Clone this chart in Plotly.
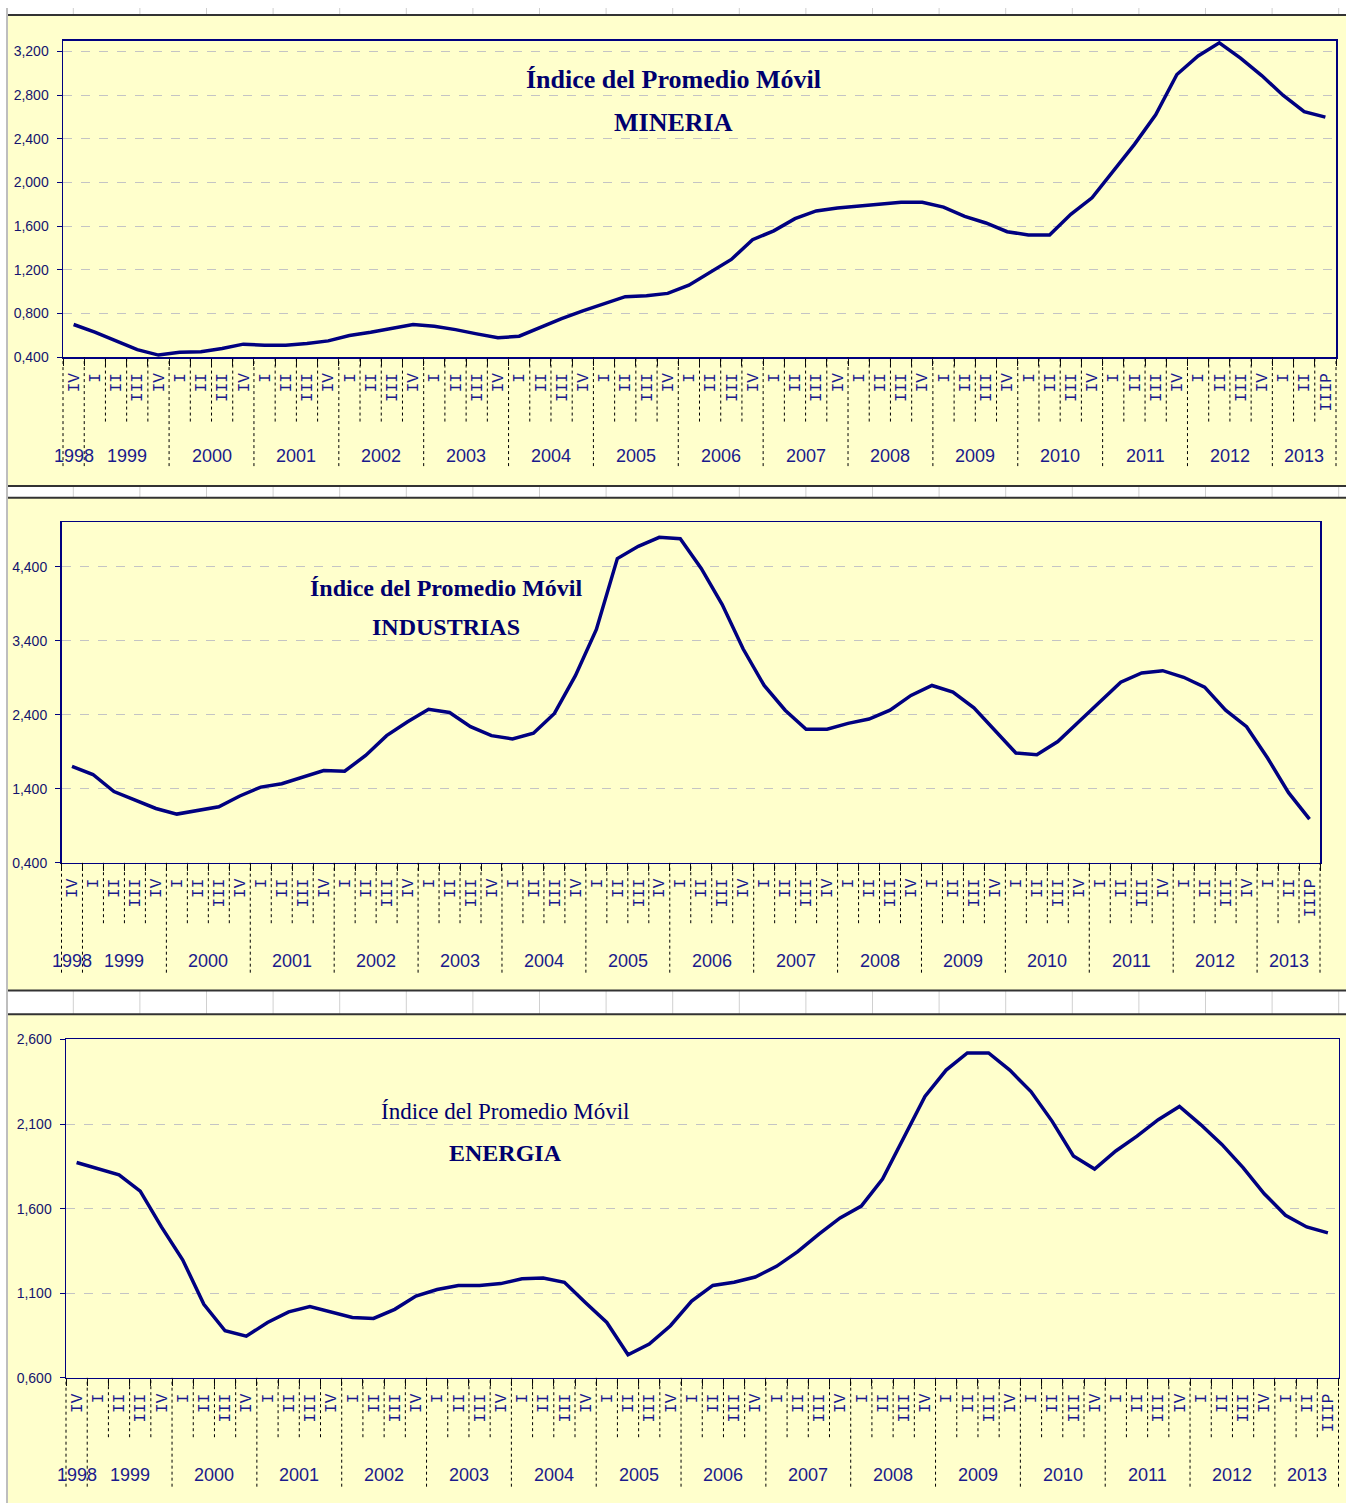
import plotly.graph_objects as go

# ---------------- data ----------------
quarters = ["IV",
            "I", "II", "III", "IV", "I", "II", "III", "IV", "I", "II", "III", "IV",
            "I", "II", "III", "IV", "I", "II", "III", "IV", "I", "II", "III", "IV",
            "I", "II", "III", "IV", "I", "II", "III", "IV", "I", "II", "III", "IV",
            "I", "II", "III", "IV", "I", "II", "III", "IV", "I", "II", "III", "IV",
            "I", "II", "III", "IV", "I", "II", "III", "IV",
            "I", "II", "IIIP"]
years = [1998,
         1999, 1999, 1999, 1999, 2000, 2000, 2000, 2000, 2001, 2001, 2001, 2001,
         2002, 2002, 2002, 2002, 2003, 2003, 2003, 2003, 2004, 2004, 2004, 2004,
         2005, 2005, 2005, 2005, 2006, 2006, 2006, 2006, 2007, 2007, 2007, 2007,
         2008, 2008, 2008, 2008, 2009, 2009, 2009, 2009, 2010, 2010, 2010, 2010,
         2011, 2011, 2011, 2011, 2012, 2012, 2012, 2012,
         2013, 2013, 2013]

mineria = [0.70, 0.63, 0.55, 0.47, 0.42, 0.445, 0.45, 0.48, 0.52, 0.51, 0.51, 0.525,
           0.55, 0.60, 0.63, 0.665, 0.70, 0.683, 0.653, 0.614, 0.578, 0.593, 0.674,
           0.753, 0.825, 0.886, 0.955, 0.964, 0.985, 1.06, 1.176, 1.296, 1.477, 1.558,
           1.67, 1.74, 1.767, 1.785, 1.806, 1.82, 1.82, 1.775, 1.69, 1.63, 1.55, 1.52,
           1.52, 1.71, 1.86, 2.10, 2.35, 2.62, 2.99, 3.16, 3.28, 3.14, 2.98, 2.80,
           2.65, 2.60]

industrias = [1.705, 1.594, 1.363, 1.246, 1.135, 1.059, 1.103, 1.157, 1.304, 1.424,
              1.469, 1.558, 1.647, 1.638, 1.852, 2.119, 2.306, 2.476, 2.432, 2.24,
              2.119, 2.075, 2.151, 2.419, 2.93, 3.555, 4.512, 4.678, 4.80, 4.78,
              4.38, 3.89, 3.29, 2.797, 2.463, 2.205, 2.205, 2.285, 2.343, 2.463,
              2.663, 2.797, 2.708, 2.494, 2.195, 1.884, 1.861, 2.039, 2.306, 2.574,
              2.841, 2.967, 2.997, 2.908, 2.774, 2.463, 2.24, 1.817, 1.349, 0.992]

energia = [1.873, 1.834, 1.80, 1.703, 1.492, 1.298, 1.035, 0.878, 0.846, 0.927,
           0.99, 1.021, 0.99, 0.957, 0.951, 1.005, 1.083, 1.122, 1.146, 1.146,
           1.157, 1.185, 1.19, 1.165, 1.044, 0.927, 0.736, 0.80, 0.908, 1.054,
           1.146, 1.165, 1.196, 1.259, 1.346, 1.45, 1.545, 1.615, 1.775, 2.019,
           2.263, 2.419, 2.52, 2.52, 2.419, 2.292, 2.116, 1.912, 1.834, 1.941,
           2.029, 2.126, 2.204, 2.097, 1.98, 1.843, 1.688, 1.561, 1.492, 1.457]

title_line1 = "Índice del Promedio Móvil"
sectors = ["MINERIA", "INDUSTRIAS", "ENERGIA"]
series = [mineria, industrias, energia]
y_ticks = [[0.4, 0.8, 1.2, 1.6, 2.0, 2.4, 2.8, 3.2],
           [0.4, 1.4, 2.4, 3.4, 4.4],
           [0.6, 1.1, 1.6, 2.1, 2.6]]
y_ranges = [[0.4, 3.3], [0.4, 5.0], [0.6, 2.6]]

# ---------------- layout constants (pixels) ----------------
W, H = 1346, 1511
NAVY = "#000080"
TXT = "#1a1a8c"
YEL = "#FFFFCC"
SANS = "Liberation Sans, Arial, sans-serif"
SERIF = "Liberation Serif, Times New Roman, serif"
MONO = "Liberation Mono, Courier New, monospace"

def fx(p):
    return p / W

def fy(p):
    return 1 - p / H

panels = [
    dict(left=63, right=1336, top=33, bottom=353, yr=453, short=65, long=110,
         t1=(673, 72, 26, True), t2=(673, 116, 26), bg=(8, 483)),
    dict(left=61.5, right=1320, top=520, bottom=864, yr=963, short=61, long=111,
         t1=(446.5, 586, 24, True), t2=(446, 626, 24), bg=(495, 993)),
    dict(left=66, right=1338.5, top=1042.5, bottom=1384.5, yr=1483, short=60, long=110,
         t1=(505.5, 1115, 23, False), t2=(505, 1157, 24), bg=(1017, 1511)),
]

cats = [f"{y}-{q}" for y, q in zip(years, quarters)]

fig = go.Figure()
shapes = []
annotations = []

# spreadsheet background pieces
for p in panels:
    y0, y1 = p["bg"]
    shapes.append(dict(type="rect", xref="paper", yref="paper", layer="below",
                       x0=fx(8), x1=1, y0=fy(y1), y1=fy(y0),
                       fillcolor=YEL, line=dict(width=0)))
strips = [(0, 7), (483, 495), (993, 1017)]
for (a, b) in strips:
    xc = 73.3
    while xc < W:
        shapes.append(dict(type="line", xref="paper", yref="paper", layer="below",
                           x0=fx(xc), x1=fx(xc), y0=fy(b), y1=fy(a),
                           line=dict(color="#d0d0d0", width=1)))
        xc += 66.6
for yl in [7, 483, 495, 993, 1017]:
    shapes.append(dict(type="line", xref="paper", yref="paper", layer="below",
                       x0=fx(8), x1=1, y0=fy(yl), y1=fy(yl),
                       line=dict(color="#333333", width=2)))
shapes.append(dict(type="line", xref="paper", yref="paper", layer="below",
                   x0=fx(7), x1=fx(7), y0=0, y1=1,
                   line=dict(color="#a8a8a8", width=1.5)))

layout_axes = {}
for k, p in enumerate(panels):
    n = k + 1
    xa = "x" if n == 1 else f"x{n}"
    ya = "y" if n == 1 else f"y{n}"
    fig.add_trace(go.Scatter(x=cats, y=series[k], mode="lines",
                             line=dict(color=NAVY, width=3.5),
                             xaxis=xa, yaxis=ya, showlegend=False,
                             hoverinfo="skip"))
    layout_axes["xaxis" if n == 1 else f"xaxis{n}"] = dict(
        type="category", categoryorder="array", categoryarray=cats,
        range=[-0.5, len(cats) - 0.5], domain=[fx(p["left"]), fx(p["right"])],
        anchor=ya, tickmode="array", tickvals=cats, ticktext=quarters,
        tickangle=-90, tickfont=dict(family=MONO, size=16, color=TXT),
        ticks="outside", tickson="boundaries", ticklen=7, tickcolor="#111111",
        ticklabelstandoff=8,
        showline=True, mirror=True, linecolor=NAVY, linewidth=1.5,
        showgrid=False, zeroline=False, fixedrange=True)
    layout_axes["yaxis" if n == 1 else f"yaxis{n}"] = dict(
        range=y_ranges[k], domain=[fy(p["bottom"]), fy(p["top"])], anchor=xa,
        tickmode="array", tickvals=y_ticks[k], tickformat=".3f",
        tickfont=dict(family=SANS, size=14, color="#14146e"),
        ticks="outside", ticklen=5, tickcolor=NAVY, ticklabelstandoff=5,
        showgrid=True, gridcolor="#c4c4c4", griddash="dash", gridwidth=1,
        showline=True, mirror=True, linecolor=NAVY, linewidth=1.5,
        zeroline=False, fixedrange=True)

    # dashed separators under the axis
    ax_y = p["bottom"]
    for i in range(1, len(cats)):
        is_year = quarters[i] == "I"
        ln = p["long"] if is_year else p["short"]
        shapes.append(dict(type="line", xref=xa, yref="paper",
                           x0=i - 0.5, x1=i - 0.5, y0=fy(ax_y + ln), y1=fy(ax_y),
                           line=dict(color="#000000", width=1, dash="3px,3px")))
    for edge in [0, 1]:
        shapes.append(dict(type="line", xref=f"{xa} domain", yref="paper",
                           x0=edge, x1=edge, y0=fy(ax_y + p["long"]), y1=fy(ax_y),
                           line=dict(color="#000000", width=1, dash="3px,3px")))

    # year labels centred under their quarters
    seen = []
    for yv in years:
        if yv not in seen:
            seen.append(yv)
    for yv in seen:
        idx = [i for i, v in enumerate(years) if v == yv]
        annotations.append(dict(xref=xa, yref="paper", x=(idx[0] + idx[-1]) / 2,
                                y=fy(p["yr"]), text=str(yv), showarrow=False,
                                xanchor="center", yanchor="middle",
                                font=dict(family=SANS, size=18, color=TXT)))

    # titles
    tx, ty, ts, tb = p["t1"]
    annotations.append(dict(xref="paper", yref="paper", x=fx(tx), y=fy(ty),
                            text=(f"<b>{title_line1}</b>" if tb else title_line1),
                            showarrow=False, xanchor="center", yanchor="middle",
                            font=dict(family=SERIF, size=ts, color="#00006e")))
    tx, ty, ts = p["t2"]
    annotations.append(dict(xref="paper", yref="paper", x=fx(tx), y=fy(ty),
                            text=f"<b>{sectors[k]}</b>",
                            showarrow=False, xanchor="center", yanchor="middle",
                            font=dict(family=SERIF, size=ts, color="#00006e")))

fig.update_layout(
    width=W, height=H, margin=dict(l=0, r=0, t=0, b=0),
    paper_bgcolor="white", plot_bgcolor="rgba(0,0,0,0)",
    separators=",.", showlegend=False, hovermode=False,
    shapes=shapes, annotations=annotations, **layout_axes)

fig.write_html("out.html",
               config={"displayModeBar": False, "staticPlot": True},
               post_script="document.body.style.margin='0';"
                           "document.body.style.overflow='hidden';")
